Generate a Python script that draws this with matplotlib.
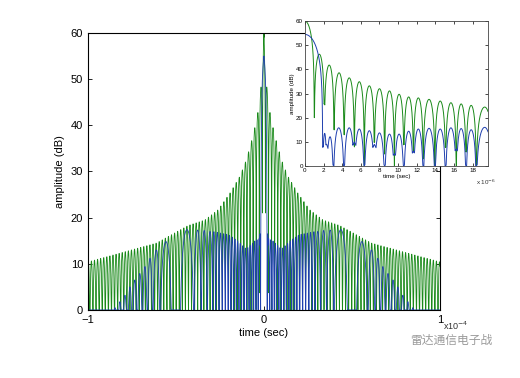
import numpy as np
import matplotlib.pyplot as plt

plt.rcParams['font.family'] = ['Liberation Sans', 'DejaVu Sans']

# ---- main plot data (time in units of 1e-4 s, symmetric about 0) ----
green_env_t = [0, 0.011, 0.028, 0.06, 0.1, 0.136, 0.193, 0.26, 0.335, 0.43, 0.61, 0.8, 1.0]
green_env_db = [60, 50.5, 44, 38, 32.5, 29, 25.3, 21.7, 19.5, 18.3, 14.5, 12.5, 10.4]
green_floor_t = [0, 0.012, 0.02]
green_floor_db = [21, 21, 0]
green_w_t = [0, 1.0]
green_w = [0.0175, 0.0175]

# blue, inner part (|t| < 0.29)
blue_env_t = [0, 0.01, 0.015, 0.025, 0.05, 0.1, 0.15, 0.2, 0.29]
blue_env_db = [55, 52, 45, 15.5, 15, 13.2, 15, 16.3, 17]
blue_w_t = [0, 0.016, 0.025, 0.1, 0.2, 0.29]
blue_w = [0.038, 0.038, 0.012, 0.014, 0.016, 0.02]
# blue, outer part: lobe nulls and peaks
blue_out_null_t = [0.29, 0.322, 0.356, 0.397, 0.477, 0.523, 0.59, 0.632, 0.662, 0.69,
                   0.72, 0.747, 0.775, 0.804, 0.832, 0.86, 1.01]
blue_out_null_db = [0] * 17
blue_out_peak_db = [17, 17.2, 17.3, 17.4, -10, 14.8, 13, 11.2, 9.4, 7.9, 6.5, 5, 3.2,
                    1.8, 0.5, -10]

# ---- inset data (time in units of 1e-6 s) ----
green_in_null_t = [-1.0, 1.0, 2.08, 3.12, 4.2, 5.3, 6.37, 7.45, 8.55, 9.6, 10.62, 11.65,
                   12.7, 13.95, 15.1, 16.25, 17.3, 18.4, 20.2]
green_in_null_db = [20, 20, 25.8, 15, 13, 8, 0, 10, 5, 0, 9, 6, 3, 0, 8, 0, 6, 0, 12]
green_in_peak_db = [60, 46.3, 41.8, 38.6, 36.5, 34.9, 33.2, 32, 31.1, 29.7, 28.6, 28.2,
                    27.6, 26.9, 26.2, 25.7, 25.1, 24.4]

blue_in_null_t = [-1.9, 1.9, 2.33, 3.05, 4.2, 5.3, 6.37, 7.45, 8.55, 9.6, 10.62, 11.65,
                  12.7, 13.95, 15.1, 16.25, 17.3, 18.4, 20.2]
blue_in_null_db = [7.7, 7.7, 9, 0, 0, 10, 0, 9, 0, 5, 0, 6, 0, 0, 0, 7, 0, 0, 10]
blue_in_peak_db = [54.5, 13.5, 12.1, 15.8, 15.8, 15.3, 14.6, 13.7, 13.2, 13.2, 14.4, 15.3,
                   15.6, 15.3, 15.8, 15.5, 15.0, 16.0]

GREEN = '#1a8a1a'
BLUE = '#1f3fae'


def main_curve(t, env_t, env_db, w_t, w, floor_t=None, floor_db=None):
    s = np.linspace(0, 1, 20001)
    ph = np.concatenate([[0], np.cumsum(np.diff(s) / np.interp(s[1:], w_t, w))])
    a = np.abs(t)
    phase = np.interp(a, s, ph)
    y = np.interp(a, env_t, env_db) + 20 * np.log10(np.abs(np.cos(np.pi * phase)) + 1e-9)
    if floor_t is not None:
        y = np.maximum(y, np.interp(a, floor_t, floor_db))
    return np.clip(y, 0, None)


def lobe_curve(t, nulls, null_db, peak_db):
    y = np.full_like(t, np.nan)
    for a, b, fa, fb, p in zip(nulls[:-1], nulls[1:], null_db[:-1], null_db[1:], peak_db):
        m = (t >= a) & (t <= b)
        u = (t[m] - a) / (b - a)
        arch = p + 20 * np.log10(np.sin(np.pi * u) + 1e-9)
        y[m] = np.maximum(arch, fa + (fb - fa) * u)
    return np.clip(y, 0, None)


t = np.linspace(-1, 1, 20001)
g = main_curve(t, green_env_t, green_env_db, green_w_t, green_w, green_floor_t, green_floor_db)
b_in = main_curve(t, blue_env_t, blue_env_db, blue_w_t, blue_w)
b_out = lobe_curve(np.abs(t), blue_out_null_t, blue_out_null_db, blue_out_peak_db)
b = np.where(np.abs(t) < blue_out_null_t[0], b_in, b_out)

ti = np.linspace(0, 19.66, 4000)
gi = lobe_curve(ti, green_in_null_t, green_in_null_db, green_in_peak_db)
bi = lobe_curve(ti, blue_in_null_t, blue_in_null_db, blue_in_peak_db)

fig = plt.figure(figsize=(5.2, 3.78), dpi=100)
ax = fig.add_axes([0.169, 0.180, 0.677, 0.733])
ax.plot(t, g, color=GREEN, lw=0.6)
ax.plot(t, b, color=BLUE, lw=0.6)
ax.set_xlim(-1, 1)
ax.set_ylim(0, 60)
ax.set_xticks([-1, 0, 1])
ax.set_yticks(range(0, 61, 10))
ax.tick_params(direction='in', top=True, right=True, labelsize=8, length=3, width=0.6)
ax.set_xlabel('time (sec)', fontsize=8, labelpad=2)
ax.set_ylabel('amplitude (dB)', fontsize=8, labelpad=4)
for sp in ax.spines.values():
    sp.set_linewidth(0.8)
fig.text(0.852, 0.128, r'x10$^{-4}$', fontsize=6.5, color='#333333')

ins = fig.add_axes([0.5865, 0.561, 0.352, 0.383])
ins.plot(ti, gi, color=GREEN, lw=0.7)
ins.plot(ti, bi, color=BLUE, lw=0.7)
ins.set_xlim(0, 19.66)
ins.set_ylim(0, 60)
ins.set_xticks(range(0, 19, 2))
ins.set_yticks(range(0, 61, 10))
ins.tick_params(direction='in', top=True, right=True, labelsize=4.5, length=2, width=0.5, pad=1.5)
ins.set_xlabel('time (sec)', fontsize=4.5, labelpad=1)
ins.set_ylabel('amplitude (dB)', fontsize=4.5, labelpad=1)
for sp in ins.spines.values():
    sp.set_linewidth(0.6)
    sp.set_color('#444444')
fig.text(0.915, 0.51, r'x 10$^{-6}$', fontsize=4.5, color='#333333')

fig.text(0.789, 0.09, '雷达通信电子战', fontsize=8.5, color='#9a9a9a',
         family=['Noto Sans CJK SC', 'DejaVu Sans'])

fig.savefig('out.png', dpi=100)
